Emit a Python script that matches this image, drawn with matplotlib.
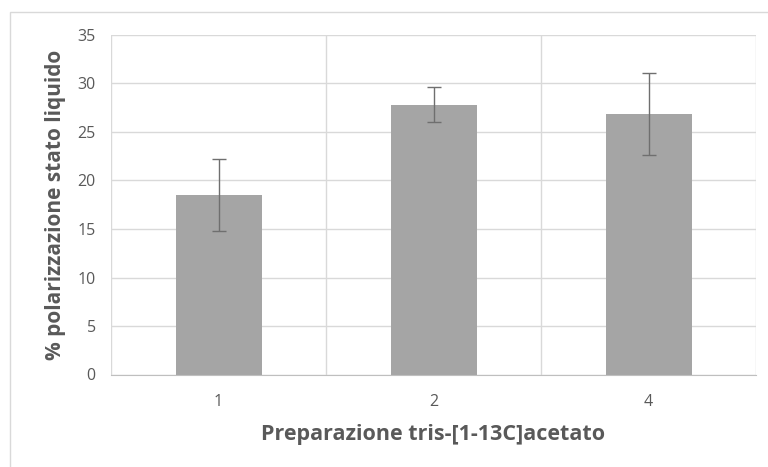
import matplotlib
matplotlib.use("Agg")
import matplotlib.pyplot as plt
from matplotlib.patches import Rectangle

categories = ["1", "2", "4"]
values = [18.5, 27.8, 26.9]
err_low = [3.7, 1.8, 4.3]
err_high = [3.7, 1.8, 4.2]
yticks = [0, 5, 10, 15, 20, 25, 30, 35]

plt.rcParams["font.family"] = ["Open Sans", "DejaVu Sans"]

fig = plt.figure(figsize=(7.68, 4.67), dpi=100)
fig.patch.set_facecolor("white")
# chart frame
fig.add_artist(Rectangle((10 / 768, -0.1), 1.2, 1 - 12 / 467 + 0.1,
                         transform=fig.transFigure, fill=False,
                         edgecolor="#d9d9d9", linewidth=1.0))

ax = fig.add_axes([111 / 768, (467 - 374.5) / 467, (756 - 111) / 768, (374.5 - 35) / 467])
x = list(range(len(categories)))
ax.bar(x, values, width=0.4, color="#a5a5a5", zorder=3,
       yerr=[err_low, err_high], error_kw=dict(ecolor="#6f6f6f", elinewidth=1.0,
                                               capsize=5, capthick=1.0, zorder=4))

ax.set_xlim(-0.5, 2.5)
ax.set_ylim(0, 35)
ax.set_yticks(yticks)
ax.set_xticks(x)
ax.set_xticklabels(categories)
ax.tick_params(axis="both", length=0, labelsize=11.5, colors="#595959")
ax.tick_params(axis="x", pad=14)
ax.tick_params(axis="y", pad=11)

ax.grid(axis="y", color="#d9d9d9", linewidth=1, zorder=0)
for b in [-0.5, 0.5, 1.5, 2.5]:
    ax.axvline(b, color="#d9d9d9", linewidth=1, zorder=0)
for s in ["top", "right", "left"]:
    ax.spines[s].set_visible(False)
ax.spines["bottom"].set_color("#bfbfbf")
ax.spines["bottom"].set_zorder(5)

ax.set_xlabel("Preparazione tris-[1-13C]acetato", fontsize=15.5, fontweight="bold",
              color="#595959", labelpad=10)
ax.set_ylabel("% polarizzazione stato liquido", fontsize=15, fontweight="bold",
              color="#595959", labelpad=8)

fig.savefig("out.png", dpi=100, facecolor="white")
